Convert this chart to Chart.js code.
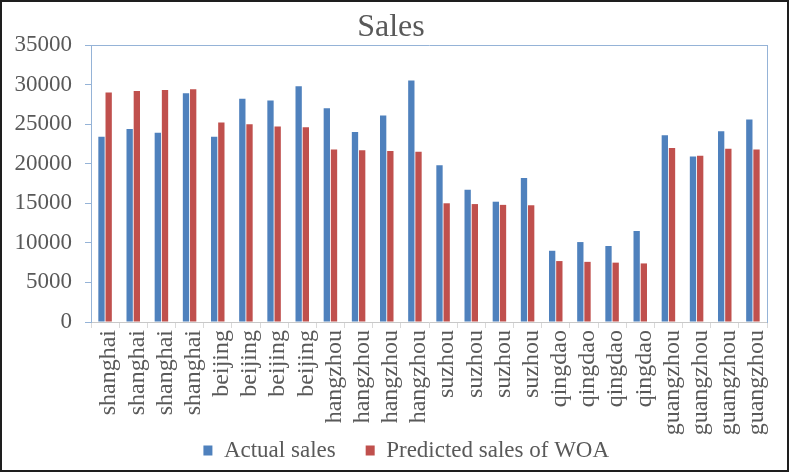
<!DOCTYPE html>
<html>
<head>
<meta charset="utf-8">
<script src="https://cdn.jsdelivr.net/npm/chart.js@4"></script>
<style>
  html, body { margin: 0; padding: 0; background: #ffffff; }
  #wrap { width: 789px; height: 472px; position: relative; }
</style>
</head>
<body>
<div id="wrap"><canvas id="c" width="789" height="472"></canvas></div>
<script>
const categories = [
  'shanghai','shanghai','shanghai','shanghai',
  'beijing','beijing','beijing','beijing',
  'hangzhou','hangzhou','hangzhou','hangzhou',
  'suzhou','suzhou','suzhou','suzhou',
  'qingdao','qingdao','qingdao','qingdao',
  'guangzhou','guangzhou','guangzhou','guangzhou'
];
const actualSales = [
  23400, 24400, 23900, 28900,
  23400, 28200, 28000, 29800,
  27000, 24000, 26100, 30500,
  19800, 16700, 15200, 18200,
  9000, 10100, 9600, 11500,
  23600, 20900, 24100, 25600
];
const predictedSales = [
  29000, 29200, 29300, 29400,
  25200, 25000, 24700, 24600,
  21800, 21700, 21600, 21500,
  15000, 14900, 14800, 14750,
  7700, 7600, 7500, 7400,
  22000, 21000, 21900, 21800
];
const seriesNames = ['Actual sales', 'Predicted sales of WOA'];
const titleText = 'Sales';
const yTicks = { min: 0, max: 35000, step: 5000 };

const SERIF = '"Liberation Serif", "Times New Roman", serif';
const TEXT = '#595959';
const FRAME = '#95B3D7';

// let tick labels extend beyond the (forced) scale box without clipping
function noLabelClip(s) { s._computeLabelArea = function () { return undefined; }; }

const framePlugin = {
  id: 'framePlugin',
  afterDraw(chart) {
    const ctx = chart.ctx;
    ctx.save();
    ctx.fillStyle = TEXT;
    ctx.font = '32px ' + SERIF;
    ctx.textAlign = 'center';
    ctx.textBaseline = 'alphabetic';
    ctx.fillText(titleText, 391, 36);
    ctx.strokeStyle = '#1e1e1e';
    ctx.lineWidth = 2;
    ctx.strokeRect(1, 1, chart.width - 2, chart.height - 2);
    ctx.restore();
  }
};

new Chart(document.getElementById('c'), {
  type: 'bar',
  data: {
    labels: categories,
    datasets: [
      { label: seriesNames[0], data: actualSales, backgroundColor: '#4F81BD', borderWidth: 0,
        categoryPercentage: 0.51, barPercentage: 0.88 },
      { label: seriesNames[1], data: predictedSales, backgroundColor: '#C0504D', borderWidth: 0,
        categoryPercentage: 0.51, barPercentage: 0.88 }
    ]
  },
  options: {
    responsive: false,
    animation: false,
    devicePixelRatio: 1,
    layout: { padding: { left: 45.5, right: 22, top: 45, bottom: 0 } },
    plugins: {
      title: { display: false },
      tooltip: { enabled: false },
      legend: {
        position: 'bottom',
        labels: {
          font: { family: SERIF, size: 23 },
          color: TEXT,
          boxWidth: 9,
          boxHeight: 10,
          padding: 30
        }
      }
    },
    scales: {
      x: {
        type: 'category',
        position: 'bottom',
        afterFit(s) { s.height = 87; noLabelClip(s); },
        grid: { display: true, drawOnChartArea: false, drawTicks: true, tickLength: 6, color: '#D9D9D9', offset: true },
        border: { display: true, color: '#C8C8C8', width: 1 },
        ticks: {
          autoSkip: false, minRotation: 90, maxRotation: 90, padding: 2, labelOffset: 4,
          color: TEXT, font: { family: SERIF, size: 24 }
        }
      },
      xTop: {
        type: 'category',
        position: 'top',
        labels: categories,
        afterFit(s) { s.height = 0; },
        grid: { display: false, drawTicks: false },
        border: { display: true, color: FRAME, width: 1 },
        ticks: { display: false }
      },
      y: {
        position: 'left',
        min: yTicks.min, max: yTicks.max,
        afterFit(s) { s.width = 45.5; noLabelClip(s); },
        grid: { display: true, drawOnChartArea: false, drawTicks: true, tickLength: 6, color: FRAME },
        border: { display: true, color: FRAME, width: 1 },
        ticks: {
          stepSize: yTicks.step, padding: 13, color: TEXT,
          font: { family: SERIF, size: 23 },
          callback: (v) => String(v)
        }
      },
      yRight: {
        position: 'right',
        min: yTicks.min, max: yTicks.max,
        afterFit(s) { s.width = 0; },
        grid: { display: false, drawTicks: false },
        border: { display: true, color: FRAME, width: 1 },
        ticks: { display: false }
      }
    }
  },
  plugins: [framePlugin]
});
</script>
</body>
</html>
